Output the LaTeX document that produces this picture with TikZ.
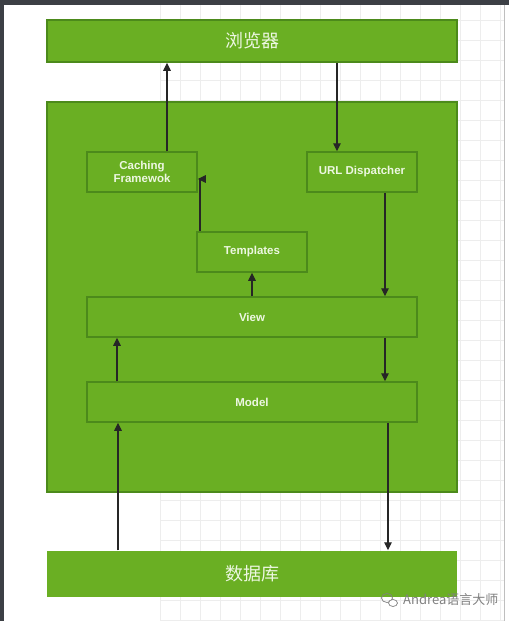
\documentclass[tikz,border=0pt]{standalone}
\usepackage{fontspec}
\setmainfont{Liberation Sans}
\newfontfamily\cjk{Noto Sans CJK SC}
\usepackage{tikz}
\usetikzlibrary{arrows.meta, positioning, calc, shapes.geometric}
\definecolor{leaf}{HTML}{6AAF23}
\definecolor{leafdark}{HTML}{4C8A1B}
\definecolor{leaftext}{HTML}{EDF7E2}
\definecolor{gridgray}{HTML}{EDEDED}
\definecolor{frame}{HTML}{3C3F45}

\begin{document}
\begin{tikzpicture}[x=1pt, y=-1pt,
    layer/.style={fill=leaf, draw=leafdark, line width=1.5pt, inner sep=0pt,
        text=leaftext, minimum width=410pt},
    module/.style={fill=leaf, draw=leafdark, line width=1.5pt, inner sep=0pt,
        text=leaftext, align=center, font=\fontsize{11.5}{12.5}\selectfont\bfseries,
        minimum width=110pt, minimum height=40pt},
    flow/.style={draw=black!85, line width=1.1pt, -{Triangle[length=8pt,width=7.5pt]}}]
    % Background
    \useasboundingbox (0,0) rectangle (509,621);
    \fill[white] (0,0) rectangle (509,621);
    \draw[gridgray, very thin, step=20pt] (160,5) grid (504,621);
    \fill[frame] (0,0) rectangle (509,5);
    \fill[frame] (0,0) rectangle (4,621);
    \draw[black!25] (504,5) -- (504,621);

    % Layers
    \node[layer, minimum height=42pt, font=\cjk\fontsize{18}{20}\selectfont] (browser) at (252,41) {浏览器};
    \node[layer, minimum height=390pt] (core) at (252,297) {};
    \node[layer, draw=none, minimum height=46pt, font=\cjk\fontsize{18}{20}\selectfont] (db) at (252,574) {数据库};

    % Modules
    \node[module] (cache) at (142,172) {Caching\\Framewok};
    \node[module] (urldisp) at (362,172) {URL Dispatcher};
    \node[module] (tmpl) at (252,252) {Templates};
    \node[module, minimum width=330pt] (view) at (252,317) {View};
    \node[module, minimum width=330pt] (model) at (252,402) {Model};

    % Connectors
    \draw[flow] ([xshift=25pt]cache.north) -- ([xshift=25pt]cache.north |- browser.south);
    \draw[flow] ([xshift=85pt]browser.south) -- ([xshift=85pt]browser.south |- urldisp.north);
    \draw[flow] ([xshift=23pt]urldisp.south) -- ([xshift=23pt]urldisp.south |- view.north);
    \draw[flow] ([xshift=-52pt]tmpl.north) |- ([yshift=-7pt]cache.east);
    \draw[flow] (view.north) -- (tmpl.south);
    \draw[flow] ([xshift=-135pt]model.north) -- ([xshift=-135pt]model.north |- view.south);
    \draw[flow] ([xshift=133pt]view.south) -- ([xshift=133pt]view.south |- model.north);
    \draw[flow] ([xshift=-134pt]db.north) -- ([xshift=-134pt]db.north |- model.south);
    \draw[flow] ([xshift=136pt]model.south) -- ([xshift=136pt]model.south |- db.north);

    % Watermark
    \node[draw=gray, line width=0.7pt, ellipse, minimum width=11pt, minimum height=9pt, inner sep=0pt] (wxa) at (387,598) {};
    \node[draw=gray, line width=0.7pt, ellipse, minimum width=9pt, minimum height=7pt, inner sep=0pt, fill=white] (wxb) at (393,603) {};
    \node[anchor=west, text=gray, font=\cjk\fontsize{13}{15}\selectfont, inner sep=0pt] (mark) at (403,600) {Andrea语言大师};
\end{tikzpicture}
\end{document}
